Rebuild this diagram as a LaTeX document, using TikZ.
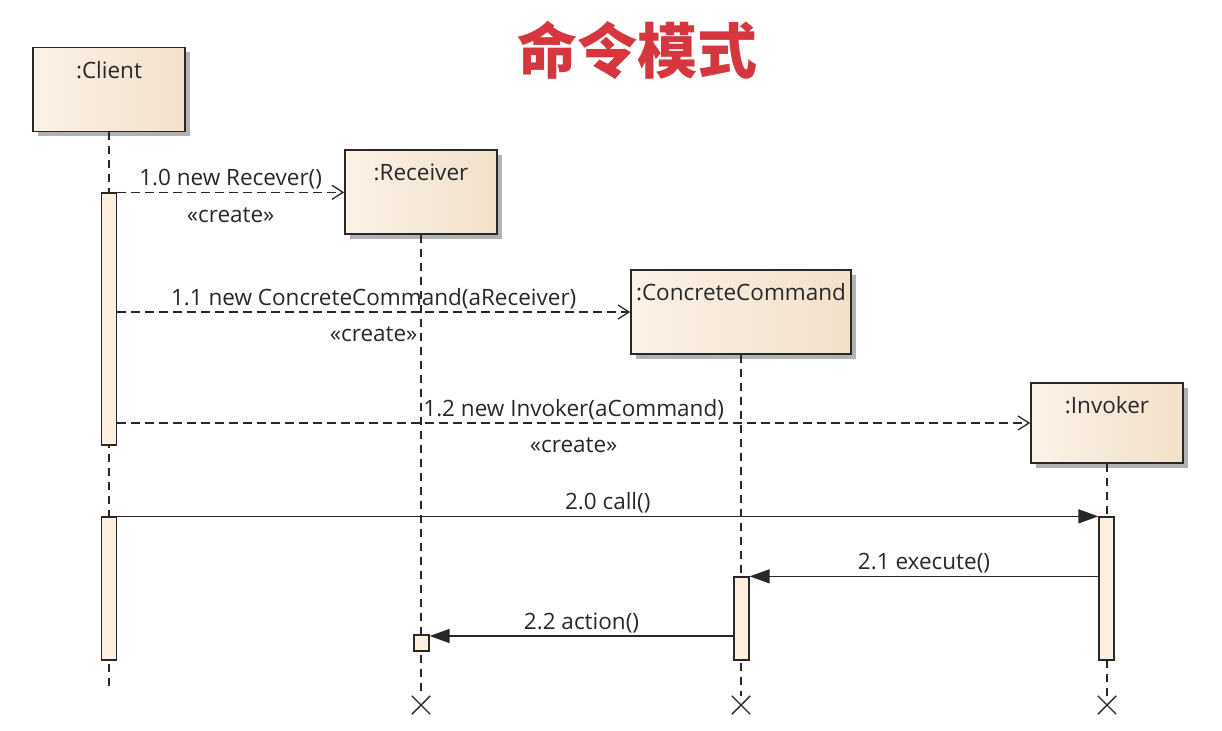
\documentclass[tikz,border=0pt]{standalone}
\usepackage{fontspec}
\setmainfont{Open Sans}
\newfontfamily\cjk{Noto Sans CJK SC}
\usetikzlibrary{arrows.meta,shadows,shapes.misc}
\definecolor{boxlight}{RGB}{252,242,231}
\definecolor{boxdark}{RGB}{242,224,202}
\definecolor{barfill}{RGB}{253,238,222}
\definecolor{titlered}{RGB}{214,54,62}
\definecolor{linec}{RGB}{40,40,40}
\begin{document}
\begin{tikzpicture}[x=1pt,y=-1pt,
  txt/.style={font=\fontsize{22.5}{25}\selectfont, text=linec},
  obj/.style={draw=linec, line width=1.6pt, left color=boxlight, right color=boxdark,
    drop shadow={shadow xshift=5pt, shadow yshift=-5pt, fill=black!50, opacity=0.6},
    inner sep=0pt, minimum width=152pt, minimum height=84pt},
  objlabel/.style={label={[anchor=north, yshift=-11pt, txt]north:{#1}}},
  bar/.style={draw=linec, line width=1.3pt, fill=barfill, minimum width=15pt, inner sep=0pt},
  life/.style={draw=linec, line width=1.3pt, dash pattern=on 8pt off 6pt},
  endx/.style={draw=linec, line width=1.4pt, cross out, minimum size=17pt, inner sep=0pt},
  create/.style={draw=linec, line width=1.4pt, dash pattern=on 9pt off 5pt, -{Straight Barb[length=11pt,width=14pt,line width=1.3pt]}},
  sync/.style={draw=linec, line width=1.4pt, -{Triangle[length=20pt,width=14pt]}},
]
\useasboundingbox (0,0) rectangle (1222,730);
\fill[white] (0,0) rectangle (1222,730);

% title
\node[font=\cjk\bfseries\fontsize{60}{62}\selectfont, text=titlered] (title) at (637,50) {命令模式};

% objects
\node[obj, objlabel={:Client}] (client) at (109,89.5) {};
\node[obj, objlabel={:Receiver}] (recv) at (421,192) {};
\node[obj, objlabel={:ConcreteCommand}, minimum width=220pt] (cc) at (741,312) {};
\node[obj, objlabel={:Invoker}, minimum height=80pt] (inv) at (1107,423) {};

% lifeline ends
\coordinate (cend) at (109,690);
\node[endx] (xr) at (421,705) {};
\node[endx] (xc) at (741,705) {};
\node[endx] (xi) at (1107,705) {};

% lifelines
\draw[life] (client.south) -- (cend);
\draw[life] (recv.south) -- (xr.north);
\draw[life] (cc.south) -- (xc.north);
\draw[life] (inv.south) -- (xi.north);

% activation bars
\node[bar, minimum height=252pt] (cb1) at (109,319) {};
\node[bar, minimum height=143pt] (cb2) at (109,588.5) {};
\node[bar, minimum height=83pt] (ccb) at (741.5,618.5) {};
\node[bar, minimum height=143pt] (ib) at (1106.5,588.5) {};
\node[bar, minimum height=16pt] (rsq) at (421.5,643) {};

% messages
\draw[create] (cb1.north east) -- (recv.west |- cb1.north east)
  node[midway, above=-1pt, txt] (m10) {1.0 new Recever()}
  node[midway, below=11pt, txt] (c10) {«create»};
\draw[create] (cb1.east |- cc.west) -- (cc.west)
  node[midway, above=-1pt, txt] (m11) {1.1 new ConcreteCommand(aReceiver)}
  node[midway, below=11pt, txt] (c11) {«create»};
\draw[create] (cb1.east |- inv.west) -- (inv.west)
  node[midway, above=-1pt, txt] (m12) {1.2 new Invoker(aCommand)}
  node[midway, below=11pt, txt] (c12) {«create»};
\draw[sync] (cb2.north east) -- (ib.north west)
  node[midway, above=-1pt, txt] (m20) {2.0 call()};
\draw[sync] (ib.west |- ccb.north east) -- (ccb.north east)
  node[midway, above=-1pt, txt] (m21) {2.1 execute()};
\coordinate (a22) at ([yshift=7pt]rsq.east);
\draw[sync] (ccb.west |- a22) -- (a22)
  node[midway, above=-1pt, txt] (m22) {2.2 action()};
\end{tikzpicture}
\end{document}
